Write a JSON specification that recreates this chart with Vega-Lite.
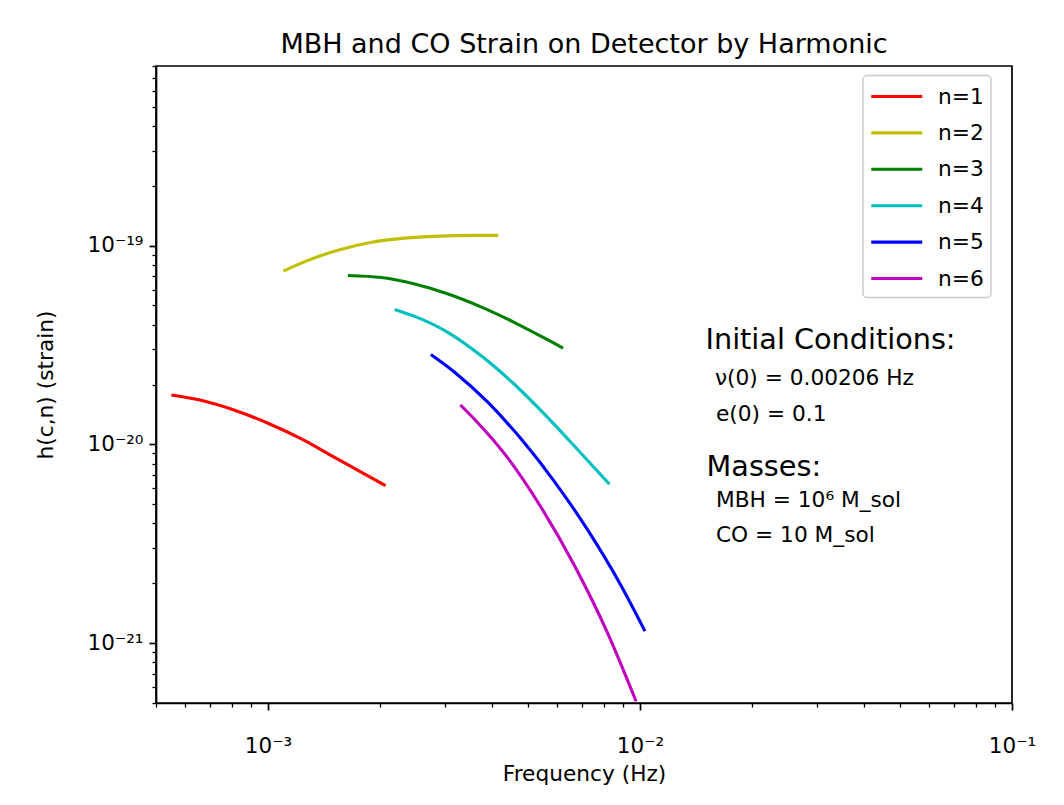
{
  "$schema": "https://vega.github.io/schema/vega-lite/v6.json",
  "width": 856,
  "height": 637,
  "autosize": {"type": "none"},
  "padding": {"left": 156, "top": 66, "right": 52, "bottom": 102},
  "background": "#ffffff",
  "title": {"text": "MBH and CO Strain on Detector by Harmonic", "font": "DejaVu Sans", "fontSize": 27, "fontWeight": "normal", "color": "#000000", "offset": 6},
  "config": {
    "view": {"stroke": "#000000", "strokeWidth": 1.7},
    "legend": {"strokeWidth": 1.5}
  },
  "datasets": {
    "curves": [
      {"f": 0.00055, "h": 1.77e-20, "n": "n=1"},
      {"f": 0.000665, "h": 1.66e-20, "n": "n=1"},
      {"f": 0.000817, "h": 1.48e-20, "n": "n=1"},
      {"f": 0.001007, "h": 1.27e-20, "n": "n=1"},
      {"f": 0.00123, "h": 1.065e-20, "n": "n=1"},
      {"f": 0.00151, "h": 8.6e-21, "n": "n=1"},
      {"f": 0.00182, "h": 7.08e-21, "n": "n=1"},
      {"f": 0.00207, "h": 6.2e-21, "n": "n=1"},
      {"f": 0.0011, "h": 7.43e-20, "n": "n=2"},
      {"f": 0.001256, "h": 8.3e-20, "n": "n=2"},
      {"f": 0.001549, "h": 9.5e-20, "n": "n=2"},
      {"f": 0.0019, "h": 1.04e-19, "n": "n=2"},
      {"f": 0.00233, "h": 1.09e-19, "n": "n=2"},
      {"f": 0.00287, "h": 1.115e-19, "n": "n=2"},
      {"f": 0.00352, "h": 1.125e-19, "n": "n=2"},
      {"f": 0.00416, "h": 1.125e-19, "n": "n=2"},
      {"f": 0.00164, "h": 7.07e-20, "n": "n=3"},
      {"f": 0.00202, "h": 6.9e-20, "n": "n=3"},
      {"f": 0.00248, "h": 6.4e-20, "n": "n=3"},
      {"f": 0.00305, "h": 5.7e-20, "n": "n=3"},
      {"f": 0.00375, "h": 4.9e-20, "n": "n=3"},
      {"f": 0.0046, "h": 4.1e-20, "n": "n=3"},
      {"f": 0.00566, "h": 3.35e-20, "n": "n=3"},
      {"f": 0.00621, "h": 3.05e-20, "n": "n=3"},
      {"f": 0.00219, "h": 4.77e-20, "n": "n=4"},
      {"f": 0.00248, "h": 4.4e-20, "n": "n=4"},
      {"f": 0.00305, "h": 3.65e-20, "n": "n=4"},
      {"f": 0.00375, "h": 2.78e-20, "n": "n=4"},
      {"f": 0.0046, "h": 2.0e-20, "n": "n=4"},
      {"f": 0.00566, "h": 1.36e-20, "n": "n=4"},
      {"f": 0.00695, "h": 9.0e-21, "n": "n=4"},
      {"f": 0.00828, "h": 6.3e-21, "n": "n=4"},
      {"f": 0.00274, "h": 2.83e-20, "n": "n=5"},
      {"f": 0.00318, "h": 2.3e-20, "n": "n=5"},
      {"f": 0.00391, "h": 1.62e-20, "n": "n=5"},
      {"f": 0.0048, "h": 1.06e-20, "n": "n=5"},
      {"f": 0.00589, "h": 6.5e-21, "n": "n=5"},
      {"f": 0.00724, "h": 3.7e-21, "n": "n=5"},
      {"f": 0.00889, "h": 1.95e-21, "n": "n=5"},
      {"f": 0.01031, "h": 1.15e-21, "n": "n=5"},
      {"f": 0.00329, "h": 1.578e-20, "n": "n=6"},
      {"f": 0.0036, "h": 1.33e-20, "n": "n=6"},
      {"f": 0.00442, "h": 8.5e-21, "n": "n=6"},
      {"f": 0.00543, "h": 4.8e-21, "n": "n=6"},
      {"f": 0.00667, "h": 2.45e-21, "n": "n=6"},
      {"f": 0.00819, "h": 1.12e-21, "n": "n=6"},
      {"f": 0.00976, "h": 5.1e-22, "n": "n=6"}
    ],
    "headings": [
      {"f": 0.015, "h": 3.35e-20, "label": "Initial Conditions:"},
      {"f": 0.0151, "h": 7.69e-21, "label": "Masses:"}
    ],
    "details": [
      {"f": 0.0159, "h": 2.16e-20, "label": "ν(0) = 0.00206 Hz"},
      {"f": 0.016, "h": 1.42e-20, "label": "e(0) = 0.1"},
      {"f": 0.016, "h": 5.25e-21, "label": "MBH = 10⁶ M_sol"},
      {"f": 0.016, "h": 3.5e-21, "label": "CO = 10 M_sol"}
    ]
  },
  "layer": [
    {
      "data": {"name": "curves"},
      "mark": {"type": "line", "strokeWidth": 3.1, "interpolate": "monotone", "clip": true},
      "encoding": {
        "x": {
          "field": "f", "type": "quantitative",
          "scale": {"type": "log", "domain": [0.0005, 0.1], "nice": false},
          "axis": {
            "orient": "bottom",
            "values": [0.001, 0.01, 0.1],
            "labelExpr": "datum.value < 0.005 ? '10⁻³' : (datum.value < 0.05 ? '10⁻²' : '10⁻¹')",
            "tickSize": 7, "tickWidth": 1.7, "tickColor": "#000000",
            "domainColor": "#000000", "domainWidth": 1.7,
            "labelFont": "DejaVu Sans", "labelFontSize": 21.5, "labelColor": "#000000",
            "labelPadding": 25, "labelFlush": false, "labelOverlap": false, "labelBound": false,
            "grid": false,
            "title": "Frequency (Hz)", "titleFont": "DejaVu Sans", "titleFontSize": 21.7,
            "titleFontWeight": "normal", "titleColor": "#000000", "titlePadding": 7
          }
        },
        "y": {
          "field": "h", "type": "quantitative",
          "scale": {"type": "log", "domain": [5e-22, 8e-19], "nice": false},
          "axis": {
            "orient": "left",
            "values": [1e-21, 1e-20, 1e-19],
            "labelExpr": "datum.value < 5e-21 ? '10⁻²¹' : (datum.value < 5e-20 ? '10⁻²⁰' : '10⁻¹⁹')",
            "tickSize": 7, "tickWidth": 1.7, "tickColor": "#000000",
            "domainColor": "#000000", "domainWidth": 1.7,
            "labelFont": "DejaVu Sans", "labelFontSize": 21.5, "labelColor": "#000000",
            "labelPadding": 6, "labelFlush": false, "labelOverlap": false, "labelBound": false,
            "grid": false,
            "title": "h(c,n) (strain)", "titleFont": "DejaVu Sans", "titleFontSize": 21.7,
            "titleFontWeight": "normal", "titleColor": "#000000",
            "titleX": -111, "titleBaseline": "middle"
          }
        },
        "color": {
          "field": "n", "type": "nominal",
          "scale": {"domain": ["n=1", "n=2", "n=3", "n=4", "n=5", "n=6"], "range": ["#ff0000", "#bfbf00", "#008000", "#00bfbf", "#0000ff", "#bf00bf"]},
          "legend": {
            "orient": "none", "legendX": 707, "legendY": 9.5, "title": null,
            "symbolType": "M-1,0H3", "symbolSize": 650, "symbolStrokeWidth": 3.1,
            "labelFont": "DejaVu Sans", "labelFontSize": 21.7, "labelColor": "#000000",
            "labelOffset": 39.5, "rowPadding": 9.4, "padding": 6.5,
            "strokeColor": "#cccccc", "fillColor": "#ffffff", "cornerRadius": 4
          }
        }
      }
    },
    {
      "data": {"name": "headings"},
      "mark": {"type": "text", "align": "left", "baseline": "middle", "font": "DejaVu Sans", "fontSize": 28.7, "color": "#000000"},
      "encoding": {
        "x": {
          "field": "f", "type": "quantitative",
          "axis": {
            "orient": "bottom",
            "values": [0.0005, 0.0006, 0.0007, 0.0008, 0.0009, 0.002, 0.003, 0.004, 0.005, 0.006, 0.007, 0.008, 0.009, 0.02, 0.03, 0.04, 0.05, 0.06, 0.07, 0.08, 0.09],
            "labels": false, "domain": false, "grid": false, "title": null,
            "tickSize": 4, "tickWidth": 1.3, "tickColor": "#000000"
          }
        },
        "y": {
          "field": "h", "type": "quantitative",
          "axis": {
            "orient": "left",
            "values": [5e-22, 6e-22, 7e-22, 8e-22, 9e-22, 2e-21, 3e-21, 4e-21, 5e-21, 6e-21, 7e-21, 8e-21, 9e-21, 2e-20, 3e-20, 4e-20, 5e-20, 6e-20, 7e-20, 8e-20, 9e-20, 2e-19, 3e-19, 4e-19, 5e-19, 6e-19, 7e-19, 8e-19],
            "labels": false, "domain": false, "grid": false, "title": null,
            "tickSize": 4, "tickWidth": 1.3, "tickColor": "#000000"
          }
        },
        "text": {"field": "label", "type": "nominal"}
      }
    },
    {
      "data": {"name": "details"},
      "mark": {"type": "text", "align": "left", "baseline": "middle", "font": "DejaVu Sans", "fontSize": 21.7, "color": "#000000"},
      "encoding": {
        "x": {"field": "f", "type": "quantitative", "axis": null},
        "y": {"field": "h", "type": "quantitative", "axis": null},
        "text": {"field": "label", "type": "nominal"}
      }
    }
  ],
  "resolve": {"axis": {"x": "independent", "y": "independent"}}
}
